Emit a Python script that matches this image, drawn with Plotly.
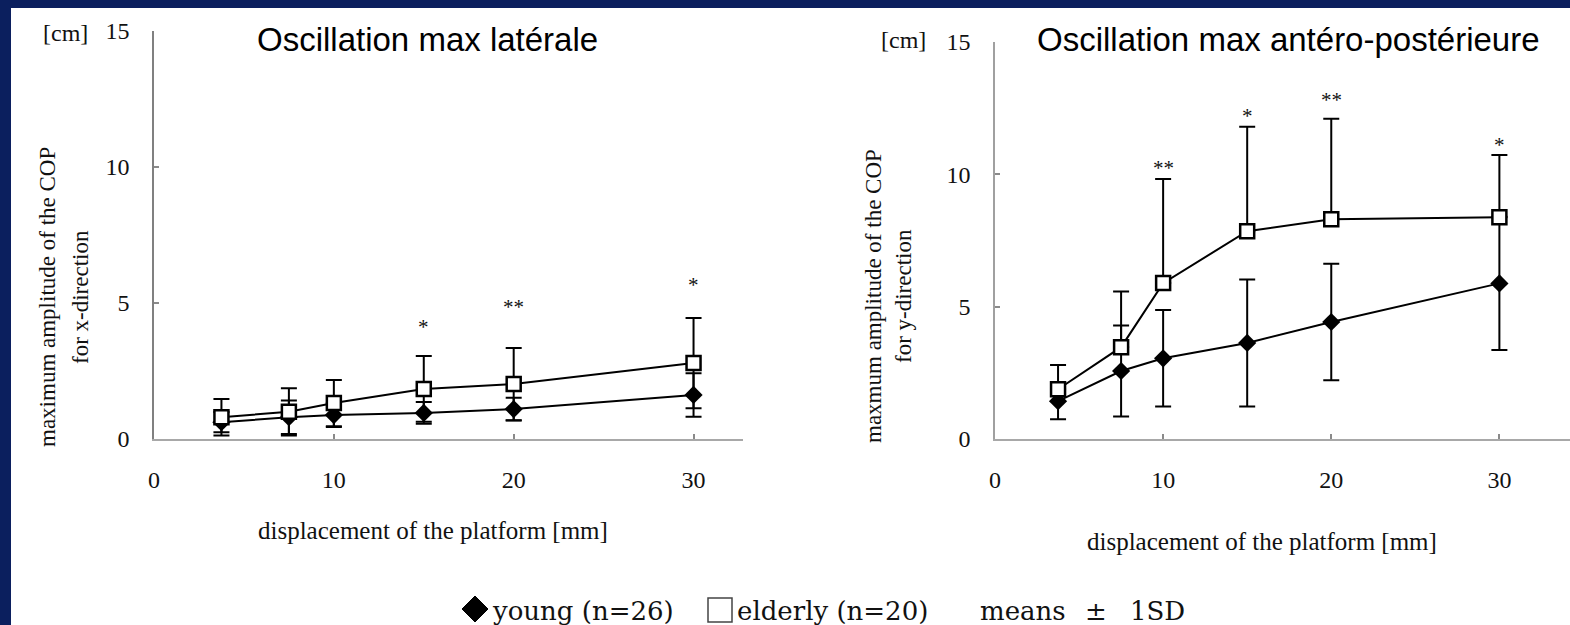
import plotly.graph_objects as go

W, H = 1570, 625

# platform displacement [mm]
displacement = [3.75, 7.5, 10, 15, 20, 30]

# lateral (x-direction) maximum COP amplitude [cm]
lat_elderly_mean = [0.80, 1.00, 1.32, 1.84, 2.02, 2.79]
lat_elderly_sd = [0.67, 0.87, 0.85, 1.21, 1.33, 1.66]
lat_young_mean = [0.62, 0.80, 0.88, 0.96, 1.10, 1.62]
lat_young_sd = [0.37, 0.62, 0.44, 0.40, 0.42, 0.80]
lat_sig = ["", "", "", "*", "**", "*"]
lat_sig_y = [0, 0, 0, 4.1, 4.85, 5.66]

# antero-posterior (y-direction) maximum COP amplitude [cm]
ap_elderly_mean = [1.88, 3.47, 5.89, 7.85, 8.30, 8.38]
ap_elderly_sd = [0.92, 2.10, 3.93, 3.95, 3.80, 2.35]
ap_young_mean = [1.43, 2.57, 3.05, 3.63, 4.42, 5.88]
ap_young_sd = [0.68, 1.72, 1.82, 2.40, 2.20, 2.52]
ap_sig = ["", "", "**", "*", "**", "*"]
ap_sig_y = [0, 0, 10.25, 12.2, 12.8, 11.1]

y_ticks = [0, 5, 10, 15]
x_ticks = [0, 10, 20, 30]

NAVY = "#0b1f5e"
SERIF = "Liberation Serif, Times New Roman, serif"


def px(x):
    return x / W


def py(y):
    return 1 - y / H


fig = go.Figure()


def add_panel(xa, ya, young_m, young_sd, eld_m, eld_sd, eld_symmetric):
    fig.add_trace(go.Scatter(
        x=displacement, y=young_m, xaxis=xa, yaxis=ya, mode="lines+markers",
        line=dict(color="black", width=2),
        marker=dict(symbol="diamond", size=14, color="black"),
        error_y=dict(type="data", array=young_sd, symmetric=True,
                     color="black", thickness=2, width=8),
        showlegend=False, name="young (n=26)"))
    err = dict(type="data", array=eld_sd, color="black", thickness=2, width=8)
    if eld_symmetric:
        err["symmetric"] = True
    else:
        err["symmetric"] = False
        err["arrayminus"] = [0] * len(eld_sd)
    fig.add_trace(go.Scatter(
        x=displacement, y=eld_m, xaxis=xa, yaxis=ya, mode="lines+markers",
        line=dict(color="black", width=2),
        marker=dict(symbol="square", size=14, color="white",
                    line=dict(color="black", width=2.5)),
        error_y=err, showlegend=False, name="elderly (n=20)"))


add_panel("x", "y", lat_young_mean, lat_young_sd,
          lat_elderly_mean, lat_elderly_sd, True)
add_panel("x2", "y2", ap_young_mean, ap_young_sd,
          ap_elderly_mean, ap_elderly_sd, False)

axis_common = dict(showgrid=False, zeroline=False, showline=True,
                   automargin=False,
                   ticks="inside", ticklen=5, tickwidth=1.5,
                   tickcolor="#8a8a8a", fixedrange=True,
                   tickfont=dict(family=SERIF, size=24, color="#111"))

fig.update_layout(
    width=W, height=H,
    margin=dict(l=0, r=0, t=0, b=0, pad=0, autoexpand=False),
    paper_bgcolor=NAVY, plot_bgcolor="white",
    xaxis=dict(domain=[px(154), px(743)], range=[0, 32.75],
               tickvals=x_ticks, linecolor="#a8a8a8", linewidth=1.5,
               ticklabelstandoff=18, anchor="y", **axis_common),
    yaxis=dict(domain=[py(439), py(31)], range=[0, 15],
               tickvals=y_ticks, linecolor="#808080", linewidth=1.5,
               ticklabelstandoff=18, anchor="x", **axis_common),
    xaxis2=dict(domain=[px(995), 1.0], range=[0, 34.2],
                tickvals=x_ticks, linecolor="#a8a8a8", linewidth=1.5,
                ticklabelstandoff=18, anchor="y2", **axis_common),
    yaxis2=dict(domain=[py(439), py(42)], range=[0, 15],
                tickvals=y_ticks, linecolor="#a0a0a0", linewidth=1.5,
                ticklabelstandoff=18, anchor="x2", **axis_common),
)

# white slide area behind the charts
fig.add_shape(type="rect", xref="paper", yref="paper",
              x0=px(11), x1=1.0, y0=0, y1=py(8),
              fillcolor="white", line=dict(width=0), layer="below")

ann = []


def text(x, y, s, size, family=SERIF, angle=0, xanchor="center", color="#111"):
    ann.append(dict(x=px(x), y=py(y), xref="paper", yref="paper", text=s,
                    showarrow=False, textangle=angle, xanchor=xanchor,
                    yanchor="middle", font=dict(family=family, size=size, color=color)))


# panel titles
text(427, 39, "Oscillation max latérale", 33, family="Liberation Sans, Arial, sans-serif", color="black")
text(1288, 39, "Oscillation max antéro-postérieure", 33, family="Liberation Sans, Arial, sans-serif", color="black")

# unit labels
text(65, 33, "[cm]", 24)
text(903, 40, "[cm]", 24)

# y-axis titles (two lines each)
text(47, 297, "maximum amplitude of the COP", 23, angle=-90)
text(80, 297, "for x-direction", 23, angle=-90)
text(873, 296, "maxmum amplitude of the COP", 23, angle=-90)
text(903, 296, "for y-direction", 23, angle=-90)

# x-axis titles
text(433, 530, "displacement of the platform [mm]", 25)
text(1262, 541, "displacement of the platform [mm]", 25)

# significance marks
for xv, s, yv in zip(displacement, lat_sig, lat_sig_y):
    if s:
        ann.append(dict(x=xv, y=yv, xref="x", yref="y", text=s, showarrow=False,
                        font=dict(family=SERIF, size=21, color="#111")))
for xv, s, yv in zip(displacement, ap_sig, ap_sig_y):
    if s:
        ann.append(dict(x=xv, y=yv, xref="x2", yref="y2", text=s, showarrow=False,
                        font=dict(family=SERIF, size=21, color="#111")))

# legend line
LEG = "DejaVu Serif, serif"
text(490, 611, "young (n=26)", 26, family=LEG, xanchor="left")
text(735, 611, "elderly (n=20)", 26, family=LEG, xanchor="left")
text(978, 611, "means", 26, family=LEG, xanchor="left")
text(1083, 611, "±", 26, family=LEG, xanchor="left")
text(1128, 611, "1SD", 26, family=LEG, xanchor="left")
fig.update_layout(annotations=ann)

# legend symbols
cx, cy, r = 475, 609, 13
fig.add_shape(type="path", xref="paper", yref="paper",
              path=f"M {px(cx - r)} {py(cy)} L {px(cx)} {py(cy - r)} "
                   f"L {px(cx + r)} {py(cy)} L {px(cx)} {py(cy + r)} Z",
              fillcolor="black", line=dict(color="black", width=1))
fig.add_shape(type="rect", xref="paper", yref="paper",
              x0=px(708), x1=px(732), y0=py(622), y1=py(598),
              fillcolor="white", line=dict(color="#444", width=1.5))

fig.write_html("out.html")
